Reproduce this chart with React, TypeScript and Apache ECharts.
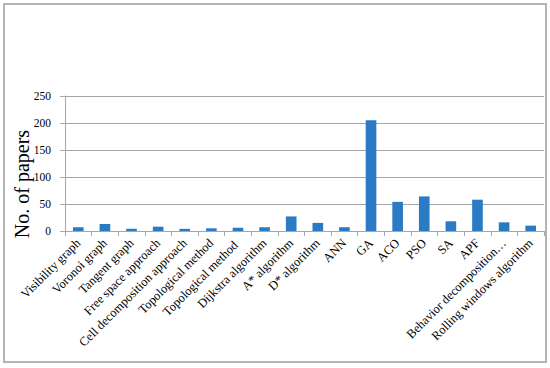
import React, { useEffect, useRef } from "react";
import * as echarts from "echarts";

const categories = [
  "Visibility graph",
  "Voronoi graph",
  "Tangent graph",
  "Free space approach",
  "Cell decomposition approach",
  "Topological method",
  "Topological method ",
  "Dijkstra algorithm",
  "A* algorithm",
  "D* algorithm",
  "ANN",
  "GA",
  "ACO",
  "PSO",
  "SA",
  "APF",
  "Behavior decomposition…",
  "Rolling windows algorithm",
];
const papers = [7, 13, 4, 8, 4, 5, 6, 7, 27, 15, 7, 205, 54, 64, 18, 58, 16, 10];
const yTitle = "No. of papers";

const FONT = "'Liberation Serif', 'Times New Roman', serif";

export default function App() {
  const ref = useRef<HTMLDivElement>(null);
  useEffect(() => {
    const chart = echarts.init(ref.current!, null, { renderer: "svg" });
    chart.setOption({
      animation: false,
      backgroundColor: "#ffffff",
      grid: { left: 65, right: 6, top: 96, bottom: 137 },
      xAxis: {
        type: "category",
        data: categories,
        boundaryGap: true,
        axisLine: { show: true, lineStyle: { color: "#a6a6a6", width: 1 } },
        axisTick: { show: true, length: 5, alignWithLabel: false, lineStyle: { color: "#a6a6a6" } },
        axisLabel: {
          interval: 0,
          rotate: 45,
          margin: 10,
          fontFamily: FONT,
          fontSize: 12.5,
          color: "#000000",
        },
      },
      yAxis: {
        type: "value",
        min: 0,
        max: 250,
        interval: 50,
        axisLine: { show: true, lineStyle: { color: "#a6a6a6", width: 1 } },
        axisTick: { show: true, length: 5, lineStyle: { color: "#a6a6a6" } },
        splitLine: { show: true, lineStyle: { color: "#a6a6a6", width: 1 } },
        axisLabel: {
          margin: 14,
          fontFamily: FONT,
          fontSize: 11.5,
          color: "#000000",
        },
      },
      series: [
        {
          type: "bar",
          data: papers,
          barCategoryGap: "60%",
          itemStyle: { color: "#2b7bc4" },
        },
      ],
      graphic: [
        {
          type: "rect",
          shape: { x: 4, y: 4, width: 542, height: 358 },
          style: { fill: "none", stroke: "#b4b4b4", lineWidth: 2 },
          silent: true,
        },
        {
          type: "text",
          x: 22,
          y: 184,
          rotation: Math.PI / 2,
          style: {
            text: yTitle,
            fontFamily: FONT,
            fontSize: 20,
            fill: "#000000",
            textAlign: "center",
            textVerticalAlign: "middle",
          },
        },
      ],
    });
    return () => chart.dispose();
  }, []);
  return (
    <div
      ref={ref}
      style={{ position: "fixed", left: 0, top: 0, width: 550, height: 368 }}
    />
  );
}
